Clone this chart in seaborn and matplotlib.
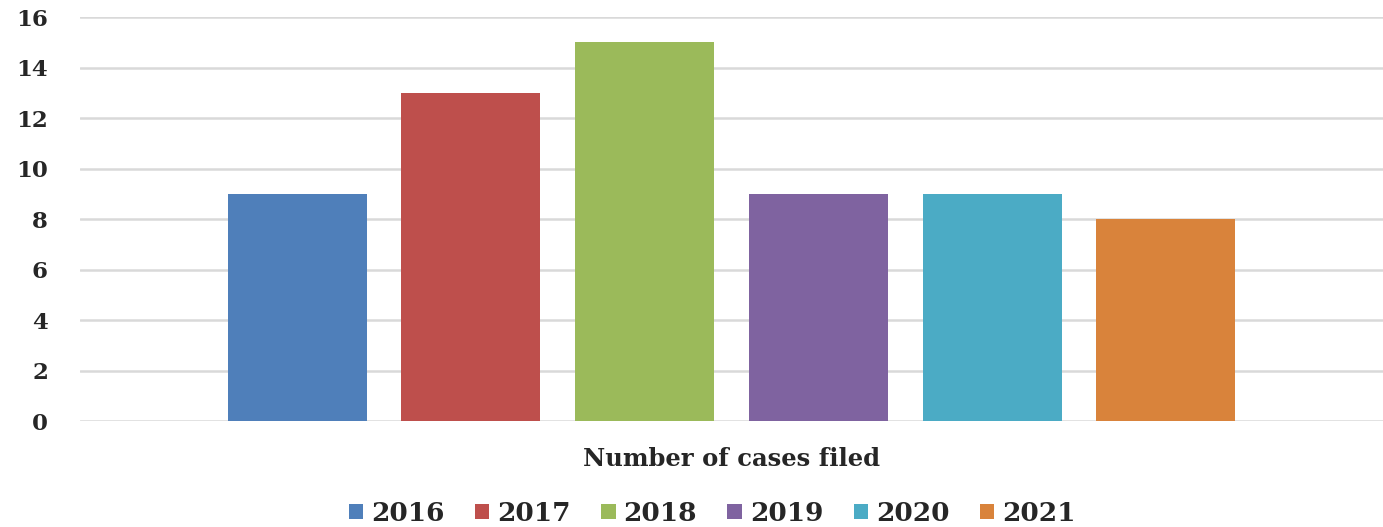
import matplotlib
matplotlib.use("Agg")
import matplotlib.pyplot as plt
import seaborn as sns
import pandas as pd

category = ["Number of cases filed"]
years = ["2016", "2017", "2018", "2019", "2020", "2021"]
cases = [9, 13, 15, 9, 9, 8]
colors = ["#4F7FBA", "#BE4F4C", "#9BBA5A", "#7F63A0", "#4BABC5", "#D9833B"]
yticks = [0, 2, 4, 6, 8, 10, 12, 14, 16]

df = pd.DataFrame({"category": category * len(years), "year": years, "cases": cases})

sns.set_theme(style="white")
fig = plt.figure(figsize=(13.83, 5.27), dpi=100)
ax = fig.add_axes([0.0578, 0.2011, 0.9422, 0.7666])

sns.barplot(data=df, x="category", y="cases", hue="year", hue_order=years,
            palette=colors, width=0.8, gap=0.2, saturation=1, ax=ax,
            legend=True, linewidth=0)

ax.set_ylim(0, 16)
ax.set_xlim(-0.5, 0.5)
ax.set_yticks(yticks)
ax.set_yticklabels([str(t) for t in yticks], family="DejaVu Serif",
                   fontweight="bold", fontsize=16.5, color="#262626")
ax.yaxis.grid(True, color="#D9D9D9", linewidth=1.8)
ax.set_axisbelow(True)
for s in ax.spines.values():
    s.set_visible(False)
ax.tick_params(axis="y", length=0, pad=23)
ax.tick_params(axis="x", length=0)
ax.set_xticklabels([])
ax.set_xlabel(category[0], family="DejaVu Serif", fontsize=17.5, fontweight="bold",
              color="#262626", labelpad=15.5)
ax.set_ylabel("")

handles, labels = ax.get_legend_handles_labels()
ax.get_legend().remove()
fig.legend(handles, labels, loc="center", bbox_to_anchor=(0.515, 0.026), ncol=6,
           frameon=False, prop={"family": "DejaVu Serif", "size": 19, "weight": "bold"},
           handlelength=0.55, handleheight=0.55, handletextpad=0.3, columnspacing=1.15,
           labelcolor="#262626")

fig.savefig("out.png", dpi=100)
